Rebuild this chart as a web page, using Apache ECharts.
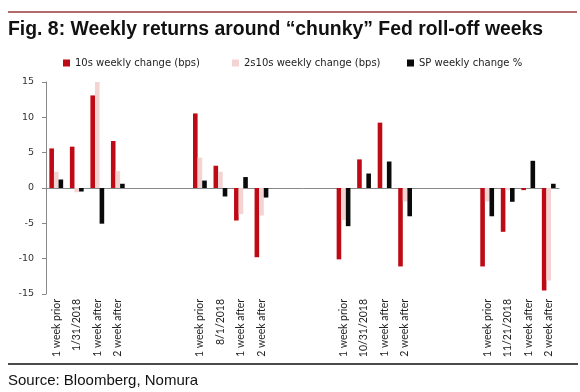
<!DOCTYPE html>
<html><head><meta charset="utf-8">
<script src="https://cdn.jsdelivr.net/npm/echarts@6/dist/echarts.min.js"></script>
<style>html,body{margin:0;padding:0;background:#fff}#c{width:580px;height:392px}</style>
</head><body><div id="c"></div>
<script>
const categories = ['1 week prior','1/31/2018','1 week after','2 week after','','','',
  '1 week prior','8/1/2018','1 week after','2 week after','','','',
  '1 week prior','10/31/2018','1 week after','2 week after','','','',
  '1 week prior','11/21/2018','1 week after','2 week after'];
const tens = [5.6,5.85,13.1,6.65,null,null,null, 10.55,3.15,-4.6,-9.8,null,null,null, -10.1,4.05,9.25,-11.1,null,null,null, -11.1,-6.2,-0.3,-14.5];
const twosTens = [2.3,-0.6,15.0,2.4,null,null,null, 4.3,2.3,-3.7,-3.9,null,null,null, -4.5,0,0,-1.9,null,null,null, -1.9,-0.3,0,-13.1];
const sp = [1.2,-0.5,-5.05,0.6,null,null,null, 1.05,-1.2,1.55,-1.35,null,null,null, -5.4,2.05,3.75,-4.0,null,null,null, -4.0,-1.95,3.85,0.6];
const seriesNames = ['10s weekly change (bps)','2s10s weekly change (bps)','SP weekly change %'];
const yTicks = {min:-15,max:15,interval:5};

const chart = echarts.init(document.getElementById('c'));
const legendText = {fontFamily:'DejaVu Sans',fontSize:10,color:'#222'};
function lg(i,left){return {data:[seriesNames[i]],left:left,top:58,itemWidth:7,itemHeight:7,icon:'rect',itemGap:0,textStyle:legendText,padding:0};}
chart.setOption({
  animation:false,
  title:[
    {text:'Fig. 8: Weekly returns around \u201cchunky\u201d Fed roll-off weeks',left:8,top:20,padding:0,
     textStyle:{fontFamily:'Liberation Sans',fontWeight:'bold',fontSize:19.4,color:'#111'}},
    {text:'Source: Bloomberg, Nomura',left:8,top:373,padding:0,
     textStyle:{fontFamily:'Liberation Sans',fontWeight:'normal',fontSize:15,color:'#111'}}
  ],
  legend:[lg(0,63),lg(1,232),lg(2,407)],
  grid:{left:46,right:21,top:82,bottom:98,containLabel:false},
  xAxis:[
    {type:'category',data:categories,position:'bottom',
     axisLine:{show:false,onZero:false},axisTick:{show:false},
     axisLabel:{rotate:90,interval:0,margin:5,fontFamily:'Lato',fontSize:10.5,color:'#222'}},
    {type:'category',data:categories,position:'bottom',
     axisLine:{show:true,onZero:true,lineStyle:{color:'#888',width:1}},axisTick:{show:false},axisLabel:{show:false}}
  ],
  yAxis:{type:'value',min:yTicks.min,max:yTicks.max,interval:yTicks.interval,
    axisLine:{show:true,lineStyle:{color:'#888',width:1}},
    axisTick:{show:true,length:4,lineStyle:{color:'#888'}},
    splitLine:{show:false},
    axisLabel:{margin:12,fontFamily:'DejaVu Sans',fontSize:9.5,color:'#333'}},
  series:[
    {name:seriesNames[0],type:'bar',data:tens,barWidth:4.6,barGap:'0%',itemStyle:{color:'#BE0A14'}},
    {name:seriesNames[1],type:'bar',data:twosTens,barWidth:4.6,barGap:'0%',itemStyle:{color:'#F4D3D3'}},
    {name:seriesNames[2],type:'bar',data:sp,barWidth:4.6,barGap:'0%',itemStyle:{color:'#0A0A0A'}}
  ],
  graphic:[
    {type:'line',shape:{x1:8,y1:12,x2:577,y2:12},style:{stroke:'#9A3A3A',lineWidth:1.5}},
    {type:'line',shape:{x1:8,y1:364,x2:578,y2:364},style:{stroke:'#111',lineWidth:1.5}}
  ]
});
</script></body></html>
